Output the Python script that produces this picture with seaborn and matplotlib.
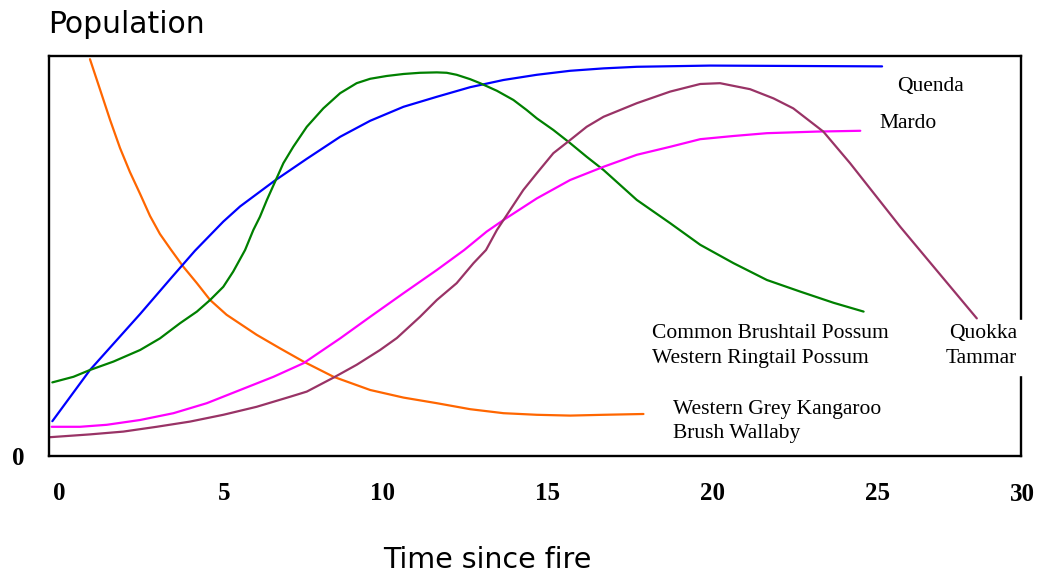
import matplotlib
matplotlib.use("Agg")
import matplotlib.pyplot as plt
import matplotlib.transforms as mtransforms
from matplotlib.patches import Rectangle
import pandas as pd
import seaborn as sns

# ── Data ─────────────────────────────────────────────────────────────────────
KANGAROO_T = [1.24, 1.55, 1.85, 2.15, 2.45, 2.76, 3.06, 3.36, 3.70, 4.07, 4.48, 4.88, 5.38, 6.29,
              7.00, 7.71, 8.62, 9.73, 10.74, 11.75, 12.76, 13.77, 14.78, 15.79, 16.80, 18.01]
KANGAROO_P = [99.2, 91.5, 84.0, 77.0, 71.0, 65.5, 60.0, 55.5, 51.5, 47.3, 43.2, 39.0, 35.3, 30.3,
              26.9, 23.6, 19.8, 16.5, 14.6, 13.2, 11.7, 10.7, 10.3, 10.1, 10.3, 10.5]

QUENDA_T = [0.10, 1.24, 2.76, 3.70, 4.42, 5.28, 5.79, 6.85, 7.81, 8.82, 9.73, 10.74, 11.75, 12.76,
            13.77, 14.78, 15.79, 16.80, 17.81, 20.03, 25.24]
QUENDA_P = [8.7, 21.5, 35.5, 44.5, 51.3, 58.6, 62.4, 68.9, 74.3, 79.8, 83.8, 87.3, 89.8, 92.2,
            94.0, 95.3, 96.3, 96.9, 97.3, 97.6, 97.4]

POSSUM_T = [0.10, 0.74, 1.24, 1.95, 2.76, 3.36, 3.97, 4.48, 4.88, 5.28, 5.58, 5.94, 6.19, 6.39,
            6.60, 6.85, 7.10, 7.40, 7.81, 8.31, 8.82, 9.32, 9.73, 10.23, 10.74, 11.24, 11.75,
            12.05, 12.35, 12.76, 13.06, 13.57, 14.07, 14.47, 14.78, 15.28, 15.79, 16.29, 16.80,
            17.81, 18.82, 19.73, 20.74, 21.75, 22.76, 23.77, 24.68]
POSSUM_P = [18.4, 19.8, 21.5, 23.6, 26.5, 29.4, 33.2, 36.1, 39.0, 42.3, 46.1, 51.5, 56.5, 59.8,
            64.0, 68.6, 73.2, 77.3, 82.3, 86.9, 90.7, 93.2, 94.3, 95.0, 95.5, 95.8, 95.9,
            95.8, 95.3, 94.2, 93.2, 91.3, 89.0, 86.5, 84.4, 81.5, 78.2, 74.8, 71.5,
            64.0, 58.2, 52.8, 48.2, 44.0, 41.1, 38.3, 36.1]

MARDO_T = [0.08, 0.94, 1.75, 2.76, 3.77, 4.78, 5.79, 6.80, 7.71, 8.82, 9.73, 10.74, 11.75, 12.58,
           13.26, 13.77, 14.78, 15.79, 16.80, 17.81, 18.82, 19.73, 20.74, 21.75, 23.26, 24.58]
MARDO_P = [7.3, 7.3, 7.8, 9.0, 10.7, 13.2, 16.5, 19.8, 23.2, 29.4, 34.8, 40.7, 46.5, 51.5,
           56.1, 59.0, 64.4, 69.0, 72.3, 75.3, 77.3, 79.2, 80.0, 80.7, 81.1, 81.3]

QUOKKA_T = [0.03, 1.24, 2.25, 3.26, 4.27, 5.28, 6.29, 7.30, 7.81, 8.62, 9.32, 10.03, 10.54, 11.24,
            11.75, 12.35, 12.86, 13.24, 13.57, 13.97, 14.37, 14.78, 15.28, 15.79, 16.29, 16.80,
            17.81, 18.82, 19.73, 20.33, 21.24, 21.95, 22.55, 23.46, 24.27, 25.79, 28.11]
QUOKKA_P = [4.7, 5.4, 6.1, 7.3, 8.6, 10.3, 12.3, 14.8, 16.1, 19.6, 22.8, 26.5, 29.5, 34.8,
            39.0, 43.2, 48.2, 51.5, 56.5, 61.5, 66.5, 70.7, 75.7, 79.0, 82.3, 84.8,
            88.2, 91.1, 93.0, 93.2, 91.7, 89.4, 86.9, 81.1, 73.2, 57.3, 34.4]

GROUPS = ["kangaroo", "quenda", "possum", "mardo", "quokka"]
PALETTE = {"kangaroo": "#FF6600", "quenda": "#0000FF", "possum": "#008000",
           "mardo": "#FF00FF", "quokka": "#993366"}

X_TICKS = [0, 5, 10, 15, 20, 25]
X_TICK_LABELS = ["0", "5", "10", "15", "20", "25"]

# ── Figure ───────────────────────────────────────────────────────────────────
sns.set_style("white")
plt.rcParams["font.family"] = ["DejaVu Sans"]

df = pd.concat([
    pd.DataFrame({"time": KANGAROO_T, "population": KANGAROO_P, "group": "kangaroo"}),
    pd.DataFrame({"time": QUENDA_T, "population": QUENDA_P, "group": "quenda"}),
    pd.DataFrame({"time": POSSUM_T, "population": POSSUM_P, "group": "possum"}),
    pd.DataFrame({"time": MARDO_T, "population": MARDO_P, "group": "mardo"}),
    pd.DataFrame({"time": QUOKKA_T, "population": QUOKKA_P, "group": "quokka"}),
], ignore_index=True)

fig = plt.figure(figsize=(10.39, 5.73), dpi=100)
ax = fig.add_axes([0.0472, 0.2042, 0.9355, 0.6981])

sns.lineplot(data=df, x="time", y="population", hue="group", hue_order=GROUPS,
             palette=PALETTE, estimator=None, sort=False, legend=False, lw=1.6, ax=ax)
for line in ax.get_lines():
    line.set_solid_joinstyle("round")

ax.set_xlim(0, 29.45)
ax.set_ylim(0, 100)
for side in ["left", "right", "top", "bottom"]:
    ax.spines[side].set_visible(True)
    ax.spines[side].set_linewidth(1.7)
    ax.spines[side].set_color("black")

tick_font = dict(fontsize=18, fontweight="bold", fontfamily="Liberation Serif", color="black")
ax.set_xticks(X_TICKS, labels=X_TICK_LABELS, **tick_font)
ax.tick_params(axis="x", direction="inout", length=9, width=1.4, pad=14, color="black")
ax.set_yticks([0], labels=["0"], **tick_font)
ax.tick_params(axis="y", length=0, pad=18)

# small horizontal nudges of the tick labels, as in the reference
for lbl in ax.get_xticklabels():
    shift = 10 if len(lbl.get_text()) == 1 else 3
    lbl.set_transform(lbl.get_transform() +
                      mtransforms.ScaledTranslation(shift / 100, 0, fig.dpi_scale_trans))
ax.text(29.5, -0.097, "30", transform=mtransforms.blended_transform_factory(ax.transData, ax.transAxes),
        ha="center", va="center", clip_on=False, **tick_font)

ax.set_xlabel("")
ax.set_ylabel("")
fig.text(0.0462, 0.958, "Population", fontsize=21.5, ha="left", va="center", color="black")
fig.text(0.469, 0.023, "Time since fire", fontsize=20.5, ha="center", va="center", color="black")

# species labels
lab = dict(fontsize=15.5, fontfamily="Liberation Serif", va="center", color="black")
ax.text(25.7, 92.3, "Quenda", ha="left", **lab)
ax.text(25.15, 83.0, "Mardo", ha="left", **lab)
ax.text(18.27, 30.5, "Common Brushtail Possum", ha="left", **lab)
ax.text(18.27, 24.3, "Western Ringtail Possum", ha="left", **lab)
ax.text(18.9, 11.5, "Western Grey Kangaroo", ha="left", **lab)
ax.text(18.9, 5.5, "Brush Wallaby", ha="left", **lab)

ax.add_patch(Rectangle((29.1, 20.3), 0.6, 13.8, color="white", clip_on=False, zorder=4))
ax.text(29.33, 30.5, "Quokka", ha="right", zorder=5, clip_on=False, **lab)
ax.text(29.33, 24.3, "Tammar", ha="right", zorder=5, clip_on=False, **lab)

fig.savefig("out.png", dpi=100)
